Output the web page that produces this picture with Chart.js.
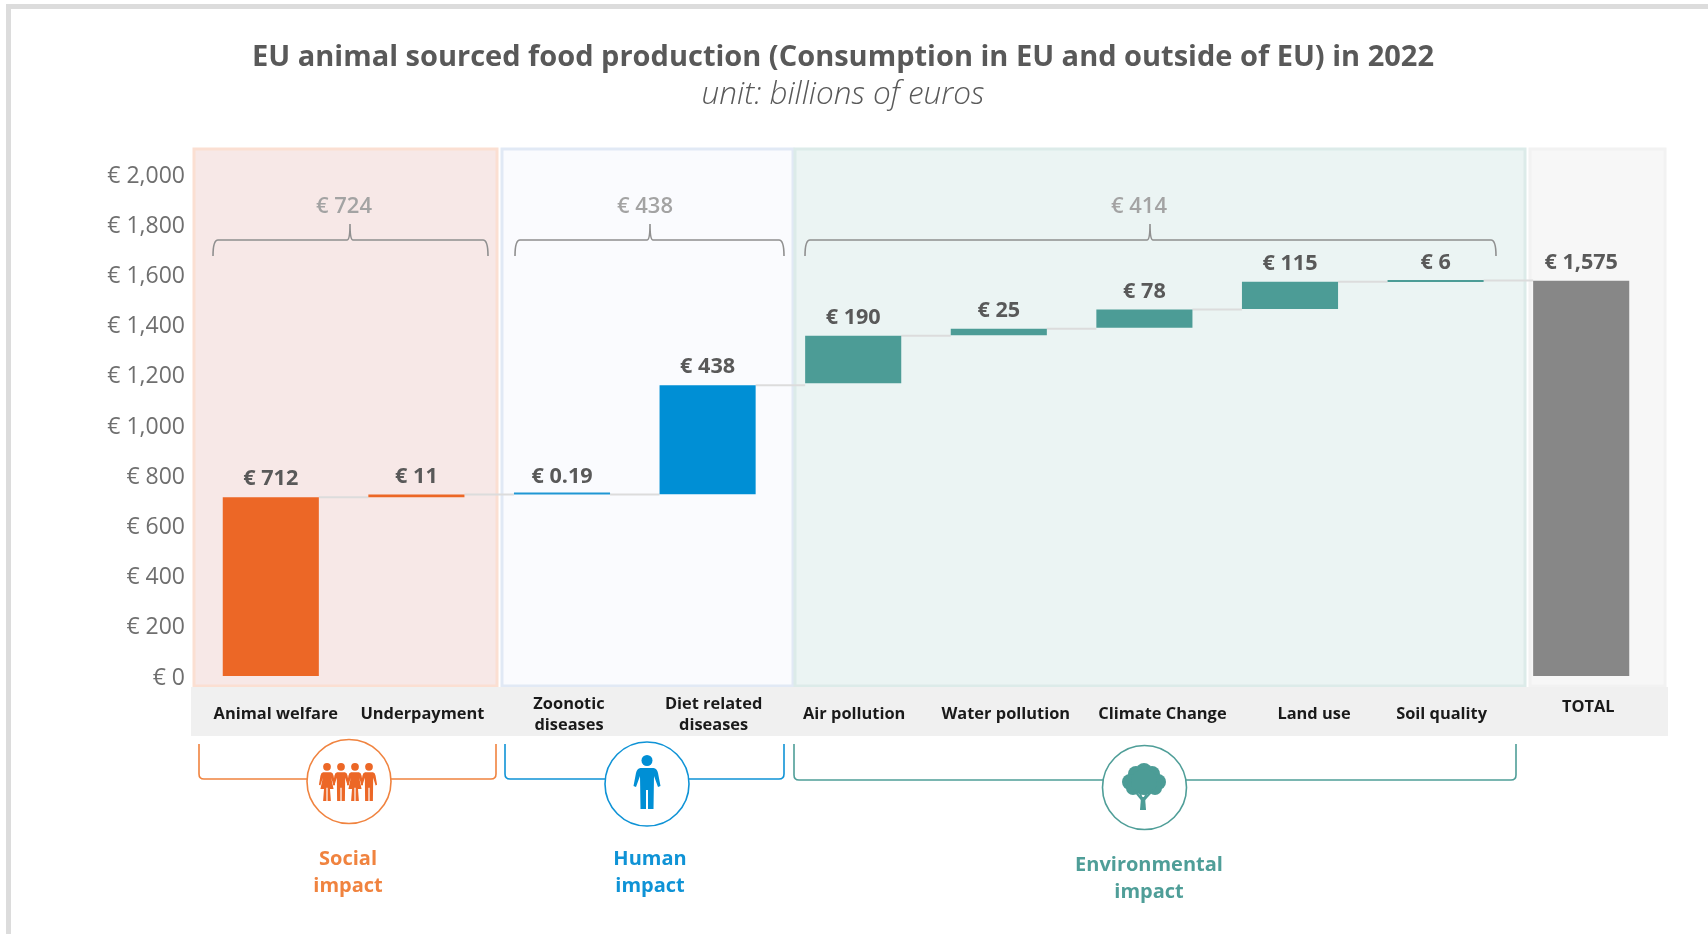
<!DOCTYPE html>
<html>
<head>
<meta charset="utf-8">
<title>EU animal sourced food production</title>
<style>
  html, body { margin: 0; padding: 0; background: #fff; }
  canvas { display: block; }
</style>
</head>
<body>
<canvas id="myChart" width="1708" height="934"></canvas>
<script src="https://cdn.jsdelivr.net/npm/chart.js@4/dist/chart.umd.js"></script>
<script>
// chart values
const categories = [
  "Animal welfare", "Underpayment", ["Zoonotic", "diseases"], ["Diet related", "diseases"],
  "Air pollution", "Water pollution", "Climate Change", "Land use", "Soil quality", "TOTAL"
];
const barLow = [0, 712, 723, 724, 1166, 1358, 1387, 1462, 1570, 0];
const barHigh = [712, 723, 723.19, 1158, 1356, 1383, 1460, 1571, 1576, 1575];
const valueLabels = ["€ 712", "€ 11", "€ 0.19", "€ 438", "€ 190", "€ 25", "€ 78", "€ 115", "€ 6", "€ 1,575"];
const barColors = ["#EC6726", "#EC6726", "#1F97D4", "#008FD5", "#4C9C96", "#4C9C96", "#4C9C96", "#4C9C96", "#4C9C96", "#878787"];
const yTickLabels = ["€ 0", "€ 200", "€ 400", "€ 600", "€ 800", "€ 1,000", "€ 1,200", "€ 1,400", "€ 1,600", "€ 1,800", "€ 2,000"];
const groupTotals = ["€ 724", "€ 438", "€ 414"];
const groupNames = [["Social", "impact"], ["Human", "impact"], ["Environmental", "impact"]];
const groupColors = ["#F0833F", "#0F93D6", "#4F9E98"];

// the category labels sit a little off their bars in the original
const labelNudge = [5, 6, 7, 6, 1, 7, 18, 24, 6, 7];

const FONT = '"Open Sans", sans-serif';

function roundedBracket(ctx, x1, x2, top, bottom, r) {
  ctx.beginPath();
  ctx.moveTo(x1, top);
  ctx.lineTo(x1, bottom - r);
  ctx.quadraticCurveTo(x1, bottom, x1 + r, bottom);
  ctx.lineTo(x2 - r, bottom);
  ctx.quadraticCurveTo(x2, bottom, x2, bottom - r);
  ctx.lineTo(x2, top);
  ctx.stroke();
}

function drawFigure(ctx, cx, top, h, w, dress) {
  // little person: head, torso with arms, two legs (skirt if dress)
  const u = h / 54;
  const X = (d) => cx + d * w * u;
  const Y = (d) => top + d * u;
  ctx.beginPath();
  ctx.arc(cx, Y(5.5), 5.5 * u, 0, Math.PI * 2);
  ctx.fill();
  ctx.beginPath();
  ctx.moveTo(X(-6.5), Y(13));
  ctx.lineTo(X(6.5), Y(13));
  ctx.quadraticCurveTo(X(10), Y(13.5), X(11), Y(18));
  ctx.lineTo(X(13.5), Y(31));
  ctx.lineTo(X(11), Y(32));
  ctx.lineTo(X(7), Y(21));
  if (dress) {
    ctx.lineTo(X(11), Y(37));
    ctx.lineTo(X(5), Y(37));
  }
  ctx.lineTo(X(6.5), Y(54));
  ctx.lineTo(X(1), Y(54));
  ctx.lineTo(X(1), Y(35));
  ctx.lineTo(X(-1), Y(35));
  ctx.lineTo(X(-1), Y(54));
  ctx.lineTo(X(-6.5), Y(54));
  if (dress) {
    ctx.lineTo(X(-5), Y(37));
    ctx.lineTo(X(-11), Y(37));
  }
  ctx.lineTo(X(-7), Y(21));
  ctx.lineTo(X(-11), Y(32));
  ctx.lineTo(X(-13.5), Y(31));
  ctx.lineTo(X(-11), Y(18));
  ctx.quadraticCurveTo(X(-10), Y(13.5), X(-6.5), Y(13));
  ctx.fill();
}

function drawTree(ctx, cx, top) {
  // crown: dome of lobes, then trunk with a few branches
  const blobs = [[1, 8, 8], [-7, 11, 8], [9, 11, 8], [-13, 19, 8], [15, 19, 8], [-10, 25, 7], [12, 25, 7], [1, 19, 13]];
  blobs.forEach((b) => {
    ctx.beginPath();
    ctx.arc(cx + b[0], top + b[1], b[2], 0, Math.PI * 2);
    ctx.fill();
  });
  ctx.strokeStyle = ctx.fillStyle;
  ctx.lineWidth = 2;
  [[-9, 27], [-4, 28], [5, 28], [10, 27]].forEach((b) => {
    ctx.beginPath();
    ctx.moveTo(cx, top + 38);
    ctx.lineTo(cx + b[0], top + b[1]);
    ctx.stroke();
  });
  ctx.beginPath();
  ctx.moveTo(cx - 3, top + 47);
  ctx.lineTo(cx - 2, top + 34);
  ctx.lineTo(cx + 2, top + 34);
  ctx.lineTo(cx + 3, top + 47);
  ctx.fill();
}

const backdrop = {
  id: "backdrop",
  beforeDraw(chart) {
    const ctx = chart.ctx;
    ctx.save();
    ctx.fillStyle = "#ffffff";
    ctx.fillRect(0, 0, chart.width, chart.height);
    // outer frame of the source image
    ctx.fillStyle = "#dcdcdc";
    ctx.fillRect(6, 4, chart.width - 6, 5);
    ctx.fillRect(6, 4, 5, chart.height - 4);

    const panels = [
      [194, 497, "#f7e8e7", "#fbdfd2"],
      [502, 793, "#fafbfe", "#e1e9f5"],
      [795, 1525, "#ebf4f3", "#dcebe9"],
      [1530, 1665, "#f7f7f7", "#f2f2f2"]
    ];
    panels.forEach((p) => {
      ctx.fillStyle = p[2];
      ctx.fillRect(p[0], 149, p[1] - p[0], 537);
      ctx.strokeStyle = p[3];
      ctx.lineWidth = 3;
      ctx.strokeRect(p[0], 149, p[1] - p[0], 537);
    });

    ctx.fillStyle = "#f0f0f0";
    ctx.fillRect(191, 687, 1477, 49);
    ctx.restore();
  },
  beforeDatasetsDraw(chart) {
    // connectors between the steps of the waterfall
    const ctx = chart.ctx;
    const meta = chart.getDatasetMeta(0);
    const y = chart.scales.y;
    ctx.save();
    ctx.strokeStyle = "#dcdcdc";
    ctx.lineWidth = 2;
    for (let i = 0; i < meta.data.length - 1; i++) {
      const yy = y.getPixelForValue(barHigh[i]);
      ctx.beginPath();
      ctx.moveTo(meta.data[i].x + meta.data[i].width / 2, yy);
      ctx.lineTo(meta.data[i + 1].x - meta.data[i + 1].width / 2, yy);
      ctx.stroke();
    }
    ctx.restore();
  },
  afterDatasetsDraw(chart) {
    const ctx = chart.ctx;
    const meta = chart.getDatasetMeta(0);
    const x = chart.scales.x;
    const y = chart.scales.y;
    ctx.save();
    ctx.textAlign = "center";
    ctx.textBaseline = "middle";

    // value labels above the bars
    ctx.font = "700 21.6px " + FONT;
    ctx.fillStyle = "#595959";
    valueLabels.forEach((label, i) => {
      ctx.fillText(label, meta.data[i].x, y.getPixelForValue(barHigh[i]) - 18);
    });

    // category labels in the grey band
    ctx.font = "700 16.4px " + FONT;
    ctx.fillStyle = "#1a1a1a";
    categories.forEach((cat, i) => {
      const px = x.getPixelForValue(i) + labelNudge[i];
      if (Array.isArray(cat)) {
        ctx.fillText(cat[0], px, 704);
        ctx.fillText(cat[1], px, 725);
      } else if (cat === "TOTAL") {
        ctx.fillText(cat, px, 707);
      } else {
        ctx.fillText(cat, px, 714);
      }
    });

    // braces with the group totals
    const braces = [[213, 488, 350, 344], [515, 784, 650, 645], [805, 1496, 1150, 1139]];
    braces.forEach((b, i) => {
      ctx.strokeStyle = "#8f8f8f";
      ctx.lineWidth = 1.6;
      ctx.beginPath();
      ctx.moveTo(b[0], 256);
      ctx.quadraticCurveTo(b[0], 240, b[0] + 5, 240);
      ctx.lineTo(b[2] - 3, 240);
      ctx.quadraticCurveTo(b[2], 240, b[2], 224);
      ctx.quadraticCurveTo(b[2], 240, b[2] + 3, 240);
      ctx.lineTo(b[1] - 5, 240);
      ctx.quadraticCurveTo(b[1], 240, b[1], 256);
      ctx.stroke();
      ctx.font = "600 22px " + FONT;
      ctx.fillStyle = "#a3a3a3";
      ctx.fillText(groupTotals[i], b[3], 207);
    });

    // impact brackets, circles, icons and names under the axis
    const groups = [
      { x1: 199, x2: 496, bottom: 779, cx: 349, cy: 781.5, nameX: 348, nameY: 859 },
      { x1: 505, x2: 784, bottom: 779, cx: 647, cy: 784, nameX: 650, nameY: 859 },
      { x1: 794, x2: 1516, bottom: 780, cx: 1144.5, cy: 787.5, nameX: 1149, nameY: 865 }
    ];
    groups.forEach((g, i) => {
      ctx.strokeStyle = groupColors[i];
      ctx.lineWidth = 1.6;
      roundedBracket(ctx, g.x1, g.x2, 744, g.bottom, 5);
      ctx.beginPath();
      ctx.arc(g.cx, g.cy, 42, 0, Math.PI * 2);
      ctx.fillStyle = "#ffffff";
      ctx.fill();
      ctx.stroke();
      ctx.fillStyle = groupColors[i];
      ctx.font = "700 20px " + FONT;
      groupNames[i].forEach((line, k) => {
        ctx.fillText(line, g.nameX, g.nameY + k * 27.5);
      });
    });
    ctx.fillStyle = "#EC6726";
    [-21, -7, 7, 21].forEach((dx, k) => drawFigure(ctx, 348 + dx, 763, 38, 0.85, k % 2 === 0));
    ctx.fillStyle = "#008FD5";
    drawFigure(ctx, 647, 755, 54, 1, false);
    ctx.fillStyle = "#4C9C96";
    drawTree(ctx, 1143, 763);
    ctx.restore();
  }
};

function initChart(target) {
  const data = {
    labels: categories,
    datasets: [
      {
        data: barLow.map((low, i) => [low, barHigh[i]]),
        backgroundColor: barColors,
        barPercentage: 0.66,
        categoryPercentage: 1,
        minBarLength: 2,
        borderSkipped: false
      }
    ]
  };

  const config = {
    type: "bar",
    data: data,
    plugins: [backdrop],
    options: {
      responsive: false,
      animation: false,
      layout: { padding: { left: 32, right: 54, top: 40, bottom: 258 } },
      plugins: {
        legend: { display: false },
        tooltip: { enabled: false },
        title: {
          display: true,
          text: "EU animal sourced food production (Consumption in EU and outside of EU) in 2022",
          color: "#595959",
          font: { family: FONT, weight: "bold", size: 29 },
          padding: { top: 0, bottom: 1.7 }
        },
        subtitle: {
          display: true,
          text: "unit: billions of euros",
          color: "#595959",
          font: { family: FONT, style: "italic", weight: "300", size: 31.5 },
          padding: { top: 0, bottom: 59.7 }
        }
      },
      scales: {
        x: {
          grid: { display: false },
          border: { display: false },
          ticks: { display: false },
          afterFit(scale) { scale.height = 0; }
        },
        y: {
          min: 0,
          max: 2000,
          grid: { display: false, drawTicks: false },
          border: { display: false },
          afterFit(scale) { scale.width = 166; },
          ticks: {
            stepSize: 200,
            padding: 13,
            labelOffset: 2,
            color: "#6f6f6f",
            font: { family: FONT, size: 23 },
            callback: (value, index) => yTickLabels[index]
          }
        }
      }
    }
  };

  return new Chart(target, config);
}

document.addEventListener("DOMContentLoaded", () => {
  initChart(document.querySelector("#myChart"));
});
</script>
</body>
</html>
